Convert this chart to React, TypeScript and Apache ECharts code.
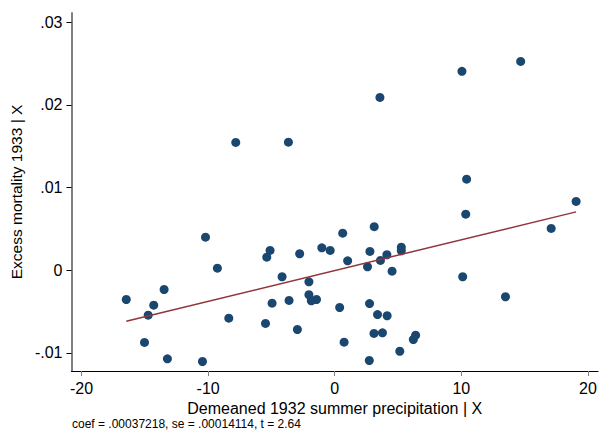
import React, { useEffect, useRef } from "react";
import * as echarts from "echarts";

// Demeaned 1932 summer precipitation | X
const precipX: number[] = [
  -7.82, -3.66, 3.57, 10.05, 14.69, 10.42, 19.07, -16.47, -15.03, -14.74,
  -14.30, -13.48, -13.22, -10.45, -10.21, -9.27, -8.37, -5.47, -5.37, -5.11,
  -4.95, -4.16, -3.61, -2.95, -2.77, -2.04, -2.04, -1.85, -1.44, -1.02,
  -0.36, 0.63, 0.39, 1.02, 0.74, 2.59, 2.78, 2.75, 3.12, 3.10,
  2.73, 3.38, 3.61, 3.77, 4.12, 4.14, 4.53, 5.14, 5.26, 5.26,
  6.21, 6.39, 10.11, 10.35, 13.49, 17.10,
];

// Excess mortality 1933 | X
const mortalityY: number[] = [
  0.01545, 0.01548, 0.02089, 0.02404, 0.02524, 0.0110, 0.00831, -0.00355, -0.00875, -0.00545,
  -0.00424, -0.00234, -0.01073, -0.01105, 0.00399, 0.00024, -0.00581, -0.00645, 0.00157, 0.00238,
  -0.00400, -0.00080, -0.00367, -0.00718, 0.00198, -0.00141, -0.00298, -0.00371, -0.00355, 0.00270,
  0.00238, 0.00447, -0.00452, 0.00113, -0.00872, 0.00041, 0.00226, -0.00404, 0.00525, -0.00766,
  -0.01093, -0.00537, 0.00117, -0.00758, 0.00186, -0.00552, -0.00013, -0.00981, 0.00278, 0.00234,
  -0.00839, -0.00787, -0.00080, 0.00677, -0.00322, 0.00504,
];

const fitCoef = 0.00037218;
const fitIntercept = -0.00005;

const xTicks: number[] = [-20, -10, 0, 10, 20];
const yTicks: number[] = [-0.01, 0, 0.01, 0.02, 0.03];

const noteText = "coef = .00037218, se = .00014114, t = 2.64";
const xTitle = "Demeaned 1932 summer precipitation | X";
const yTitle = "Excess mortality 1933 | X";

const FONT = "'Liberation Sans', Arial, sans-serif";

function fmtY(v: number): string {
  if (Math.abs(v) < 1e-12) return "0";
  const s = String(Math.round(v * 100) / 100);
  return s.replace(/^(-?)0\./, "$1.");
}

export default function App() {
  const ref = useRef<HTMLDivElement>(null);

  useEffect(() => {
    if (!ref.current) return;
    const chart = echarts.init(ref.current, undefined, { renderer: "svg" });

    const points = precipX.map((x, i) => [x, mortalityY[i]]);
    const xMin = Math.min(...precipX);
    const xMax = Math.max(...precipX);
    const fitLine = [
      [xMin, fitIntercept + fitCoef * xMin],
      [xMax, fitIntercept + fitCoef * xMax],
    ];

    chart.setOption({
      animation: false,
      backgroundColor: "#ffffff",
      textStyle: { fontFamily: FONT },
      grid: { left: 70, right: 2, top: 13, bottom: 62, containLabel: false },
      xAxis: {
        type: "value",
        min: -20.8,
        max: 20.8,
        splitLine: { show: false },
        axisLine: { show: true, onZero: false, lineStyle: { color: "#000000", width: 1.2 } },
        axisTick: {
          show: true,
          customValues: xTicks,
          length: 5,
          lineStyle: { color: "#808080", width: 1 },
        },
        axisLabel: {
          customValues: xTicks,
          color: "#000000",
          fontSize: 16,
          fontFamily: FONT,
          margin: 9,
          formatter: (v: number) => String(v),
        },
        name: xTitle,
        nameLocation: "middle",
        nameGap: 19,
        nameTextStyle: { color: "#000000", fontSize: 16, fontFamily: FONT },
      },
      yAxis: {
        type: "value",
        min: -0.0122,
        max: 0.0311,
        splitLine: { show: false },
        axisLine: { show: true, onZero: false, lineStyle: { color: "#808080", width: 2 } },
        axisTick: {
          show: true,
          customValues: yTicks,
          length: 5,
          lineStyle: { color: "#000000", width: 1 },
        },
        axisLabel: {
          customValues: yTicks,
          color: "#000000",
          fontSize: 16,
          fontFamily: FONT,
          margin: 9,
          formatter: (v: number) => fmtY(v),
        },
        name: yTitle,
        nameLocation: "middle",
        nameRotate: 90,
        nameGap: 40,
        nameTextStyle: { color: "#000000", fontSize: 15.5, fontFamily: FONT },
      },
      graphic: [
        {
          type: "text",
          left: 72,
          top: 418,
          style: { text: noteText, fontSize: 12, fontFamily: FONT, fill: "#000000" },
        },
      ],
      series: [
        {
          type: "scatter",
          data: points,
          symbol: "circle",
          symbolSize: 9,
          itemStyle: { color: "#1a476f", opacity: 1 },
          z: 2,
        },
        {
          type: "line",
          data: fitLine,
          symbol: "none",
          lineStyle: { color: "#90353b", width: 1.5 },
          z: 3,
        },
      ],
    });

    return () => chart.dispose();
  }, []);

  return (
    <div
      ref={ref}
      style={{ position: "absolute", left: 0, top: 0, width: 600, height: 433 }}
    />
  );
}
